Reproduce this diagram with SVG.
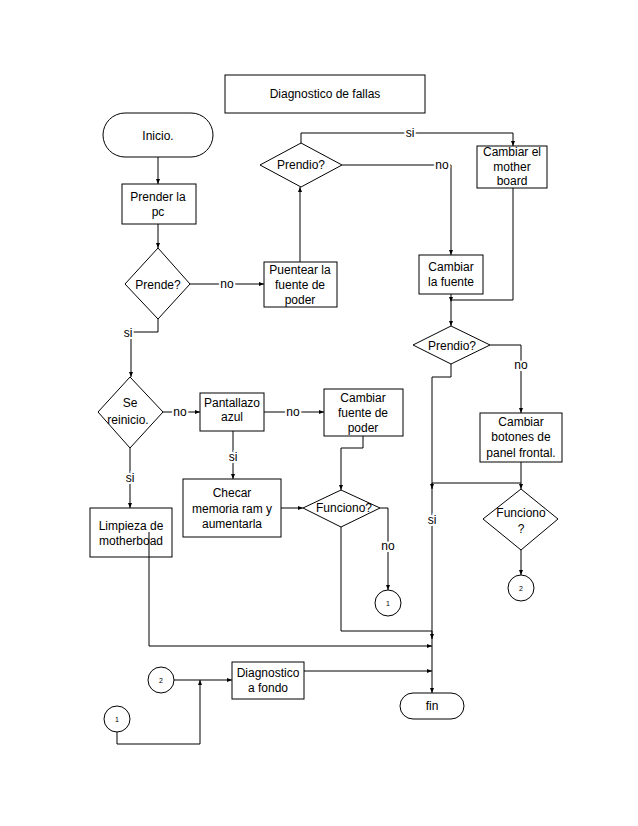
<svg xmlns="http://www.w3.org/2000/svg" width="638" height="826" viewBox="0 0 638 826">
<style>
.s{fill:#fff;stroke:#000;stroke-width:1}
.t{font-family:"Liberation Sans",Arial,sans-serif;font-size:12px;fill:#000;text-anchor:middle}
.c{font-family:"Liberation Sans",Arial,sans-serif;font-size:7px;fill:#000;text-anchor:middle}
.l{font-family:"Liberation Sans",Arial,sans-serif;font-size:12px;fill:#000;text-anchor:middle;stroke:#fff;stroke-width:4;paint-order:stroke}
.e{fill:none;stroke:#000;stroke-width:1}
</style>
<defs>
<marker id="a" viewBox="0 0 10 10" refX="10" refY="5" markerWidth="5" markerHeight="5" orient="auto" markerUnits="userSpaceOnUse">
<path d="M0,1 L10,5 L0,9 z" fill="#000"/>
</marker>
</defs>
<rect width="638" height="826" fill="#fff"/>
<g id="connectors">
<path class="e" d="M158,157 V184" marker-end="url(#a)"/>
<path class="e" d="M158,224 V248" marker-end="url(#a)"/>
<path class="e" d="M190,284 H264" marker-end="url(#a)"/>
<path class="e" d="M300,262 V187" marker-end="url(#a)"/>
<path class="e" d="M301,143 V133 H513 V146" marker-end="url(#a)"/>
<path class="e" d="M342,165 H451 V255" marker-end="url(#a)"/>
<path class="e" d="M513,188 V300 H451"/>
<path class="e" d="M451,294 V302" marker-end="url(#a)"/>
<path class="e" d="M451,302 V326" marker-end="url(#a)"/>
<path class="e" d="M490,345 H521 V413" marker-end="url(#a)"/>
<path class="e" d="M451,364 V377 H432 V693" marker-end="url(#a)"/>
<path class="e" d="M521,462 V489" marker-end="url(#a)"/>
<path class="e" d="M521,483 H432"/>
<path class="e" d="M432,483 V489" marker-end="url(#a)"/>
<path class="e" d="M521,550 V575" marker-end="url(#a)"/>
<path class="e" d="M158,319 V332 H131 V377" marker-end="url(#a)"/>
<path class="e" d="M163,412 H200" marker-end="url(#a)"/>
<path class="e" d="M264,412 H324" marker-end="url(#a)"/>
<path class="e" d="M233,431 V479" marker-end="url(#a)"/>
<path class="e" d="M130,448 V508" marker-end="url(#a)"/>
<path class="e" d="M281,508 H303" marker-end="url(#a)"/>
<path class="e" d="M363,436 V448 H341 V490" marker-end="url(#a)"/>
<path class="e" d="M380,508 H388 V590" marker-end="url(#a)"/>
<path class="e" d="M341,527 V631 H432"/>
<path class="e" d="M432,631 V639" marker-end="url(#a)"/>
<path class="e" d="M149,532 V646 H432" marker-end="url(#a)"/>
<path class="e" d="M304,671 H432" marker-end="url(#a)"/>
<path class="e" d="M174,680 H232" marker-end="url(#a)"/>
<path class="e" d="M117,732 V744 H200 V680" marker-end="url(#a)"/>
<text class="l" x="227" y="288">no</text>
<text class="l" x="410" y="137">si</text>
<text class="l" x="442" y="169">no</text>
<text class="l" x="521" y="369">no</text>
<text class="l" x="432" y="524">si</text>
<text class="l" x="128" y="337">si</text>
<text class="l" x="180" y="416">no</text>
<text class="l" x="293" y="416">no</text>
<text class="l" x="233" y="461">si</text>
<text class="l" x="130" y="482">si</text>
<text class="l" x="388" y="550">no</text>
</g>
<g id="title"><rect class="s" x="225" y="75" width="200" height="38"/><text class="t" x="325" y="98">Diagnostico de fallas</text></g>
<g id="inicio"><rect class="s" x="103" y="113" width="110" height="44" rx="22"/><text class="t" x="158" y="140">Inicio.</text></g>
<g id="prender"><rect class="s" x="122" y="184" width="74" height="40"/><text class="t" x="158" y="201">Prender la</text><text class="t" x="158" y="216">pc</text></g>
<g id="prende"><polygon class="s" points="158,248 190,284 158,319 125,284"/><text class="t" x="158" y="289">Prende?</text></g>
<g id="puentear"><rect class="s" x="264" y="262" width="73" height="45"/><text class="t" x="300" y="274">Puentear la</text><text class="t" x="300" y="289">fuente de</text><text class="t" x="300" y="304">poder</text></g>
<g id="prendio1"><polygon class="s" points="301,143 342,165 301,187 260,165"/><text class="t" x="301" y="169">Prendio?</text></g>
<g id="mother"><rect class="s" x="477" y="146" width="70" height="42"/><text class="t" x="512" y="156">Cambiar el</text><text class="t" x="512" y="171">mother</text><text class="t" x="512" y="185">board</text></g>
<g id="fuente"><rect class="s" x="419" y="255" width="64" height="39"/><text class="t" x="451" y="271">Cambiar</text><text class="t" x="451" y="286">la fuente</text></g>
<g id="prendio2"><polygon class="s" points="451,326 490,345 451,364 413,345"/><text class="t" x="452" y="350">Prendio?</text></g>
<g id="botones"><rect class="s" x="480" y="413" width="82" height="49"/><text class="t" x="521" y="426">Cambiar</text><text class="t" x="521" y="441">botones de</text><text class="t" x="521" y="457">panel frontal.</text></g>
<g id="funciono2"><polygon class="s" points="521,489 558,519 521,550 483,519"/><text class="t" x="521" y="517">Funciono</text><text class="t" x="521" y="533">?</text></g>
<g id="c2a"><circle class="s" cx="521" cy="588" r="13"/><text class="c" x="521" y="591">2</text></g>
<g id="reinicio"><polygon class="s" points="130,377 163,412 130,448 98,412"/><text class="t" x="130" y="407">Se</text><text class="t" x="128" y="424">reinicio.</text></g>
<g id="pantallazo"><rect class="s" x="200" y="393" width="64" height="38"/><text class="t" x="232" y="407">Pantallazo</text><text class="t" x="232" y="421">azul</text></g>
<g id="cfuente"><rect class="s" x="324" y="389" width="79" height="47"/><text class="t" x="363" y="402">Cambiar</text><text class="t" x="363" y="417">fuente de</text><text class="t" x="363" y="432">poder</text></g>
<g id="checar"><rect class="s" x="183" y="479" width="98" height="58"/><text class="t" x="232" y="497">Checar</text><text class="t" x="232" y="513">memoria ram y</text><text class="t" x="232" y="528">aumentarla</text></g>
<g id="funciono1"><polygon class="s" points="341,490 380,508 341,527 303,508"/><text class="t" x="344" y="512">Funciono?</text></g>
<g id="limpieza"><rect class="s" x="90" y="508" width="82" height="49"/><text class="t" x="131" y="530">Limpieza de</text><text class="t" x="131" y="545">motherboad</text><path class="e" d="M149,532 V557"/></g>
<g id="c1a"><circle class="s" cx="388" cy="603" r="13"/><text class="c" x="388" y="606">1</text></g>
<g id="diagnostico"><rect class="s" x="232" y="662" width="72" height="37"/><text class="t" x="268" y="677">Diagnostico</text><text class="t" x="268" y="692">a fondo</text></g>
<g id="c2b"><circle class="s" cx="161" cy="680" r="13"/><text class="c" x="161" y="683">2</text></g>
<g id="c1b"><circle class="s" cx="117" cy="719" r="13"/><text class="c" x="117" y="722">1</text></g>
<g id="fin"><rect class="s" x="400" y="693" width="64" height="26" rx="13"/><text class="t" x="432" y="710">fin</text></g>
</svg>
